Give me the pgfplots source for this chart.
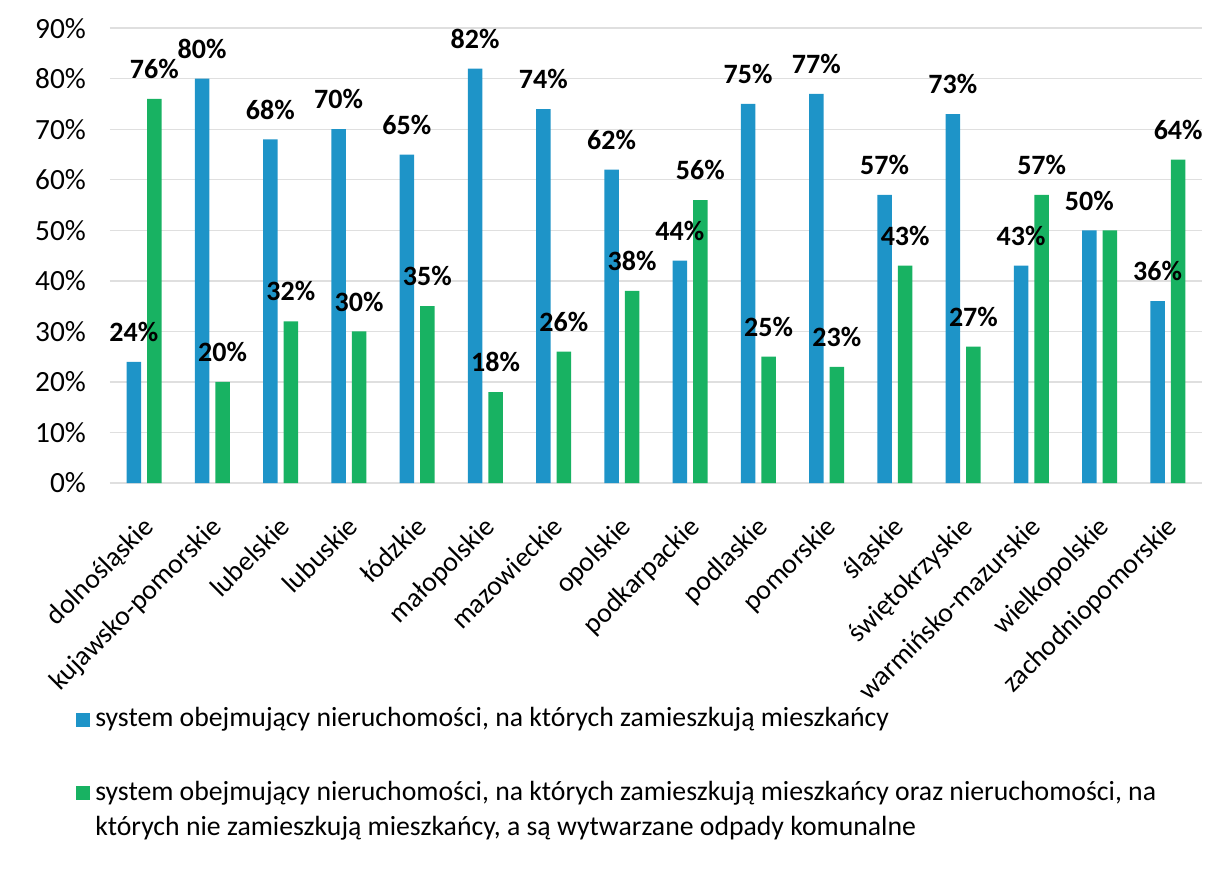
\documentclass[border=0pt]{standalone}
\usepackage{pgfplots}
\pgfplotsset{compat=1.18}
\usepackage{fontspec}
\setmainfont{Carlito}
\definecolor{sysblue}{RGB}{30,148,200}
\definecolor{sysgreen}{RGB}{24,178,98}
\begin{document}
\begin{tikzpicture}
\path[use as bounding box] (0,0) rectangle (454.125pt,326.25pt);
\begin{axis}[
    at={(41.25pt,145.1pt)}, anchor=south west,
    scale only axis,
    width=409.5pt, height=170.6pt,
    ybar=2.2pt, bar width=5.5pt,
    xmin=-0.5, xmax=15.5,
    ymin=0, ymax=90,
    xtick={0,...,15},
    xticklabels={dolnośląskie,kujawsko-pomorskie,lubelskie,lubuskie,łódzkie,małopolskie,mazowieckie,opolskie,podkarpackie,podlaskie,pomorskie,śląskie,świętokrzyskie,warmińsko-mazurskie,wielkopolskie,zachodniopomorskie},
    xticklabel style={rotate=45, anchor=north east, font=\fontsize{10.4}{12}\selectfont, inner sep=1pt, yshift=-6.5pt, xshift=-8pt},
    ytick={0,10,...,90},
    yticklabels={0\%,10\%,20\%,30\%,40\%,50\%,60\%,70\%,80\%,90\%},
    yticklabel style={font=\fontsize{11}{13}\selectfont, xshift=-5.5pt},
    /pgf/number format/assume math mode=true,
    major tick length=0pt,
    axis line style={draw=none},
    ymajorgrids, grid style={gray!25, line width=0.5pt},
    point meta=explicit symbolic,
    nodes near coords={\pgfplotspointmeta},
    nodes near coords style={font=\bfseries\fontsize{10.5}{12}\selectfont, yshift=4pt, text=black},
    legend style={draw=none, at={(axis description cs:0,0)}, anchor=north west,
        xshift=-13pt, yshift=-82pt, font=\fontsize{10.4}{13}\selectfont,
        cells={anchor=base west}, row sep=13pt, inner sep=0pt},
    legend image code/.code={\fill[#1] (0pt,0pt) rectangle (5.3pt,5.3pt);},
]
\addplot[fill=sysblue, draw=none] coordinates {
(0,24)[24\%] (1,80)[80\%] (2,68)[68\%] (3,70)[70\%] (4,65)[65\%] (5,82)[82\%]
(6,74)[74\%] (7,62)[62\%] (8,44)[44\%] (9,75)[75\%] (10,77)[77\%] (11,57)[57\%]
(12,73)[73\%] (13,43)[43\%] (14,50)[50\%] (15,36)[36\%]};
\addplot[fill=sysgreen, draw=none] coordinates {
(0,76)[76\%] (1,20)[20\%] (2,32)[32\%] (3,30)[30\%] (4,35)[35\%] (5,18)[18\%]
(6,26)[26\%] (7,38)[38\%] (8,56)[56\%] (9,25)[25\%] (10,23)[23\%] (11,43)[43\%]
(12,27)[27\%] (13,57)[57\%] (14,50)[{}] (15,64)[64\%]};
\legend{{system obejmujący nieruchomości, na których zamieszkują mieszkańcy},
  {\begin{tabular}[t]{@{}l@{}}system obejmujący nieruchomości, na których zamieszkują mieszkańcy oraz nieruchomości, na\\których nie zamieszkują mieszkańcy, a są wytwarzane odpady komunalne\end{tabular}}}
\end{axis}
\end{tikzpicture}
\end{document}
